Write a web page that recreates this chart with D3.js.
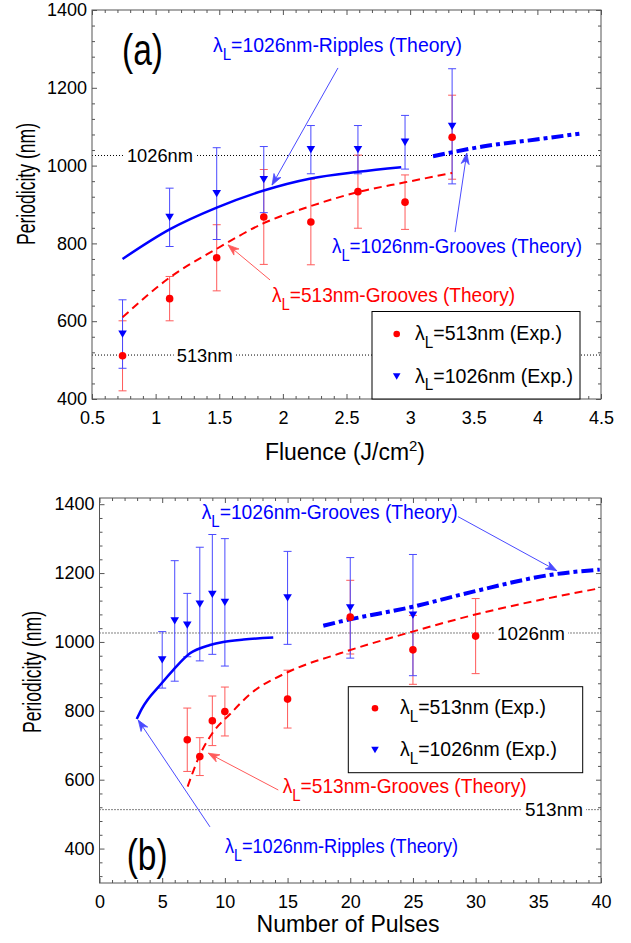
<!DOCTYPE html>
<html><head><meta charset="utf-8">
<script src="https://cdn.jsdelivr.net/npm/d3@7"></script>
<style>
body{margin:0;background:#fff;}
text{font-family:"Liberation Sans",Arial,sans-serif;}
</style></head><body>
<svg id="c" width="631" height="943"></svg>
<script>
// ---------- Panel (a): periodicity vs fluence ----------
const fluence = [0.74,1.11,1.48,1.85,2.22,2.59,2.96,3.33];
const fl513 = [511,658,763,868,855,933,906,1073];
const fl513Err = [90,57,85,122,110,94,70,108];
const fl1026 = [567,867,928,964,1041,1041,1060,1101];
const fl1026Err = [88,75,118,85,62,62,69,148];
const ripA_x = [0.74,1.11,1.48,1.85,2.22,2.59,2.93];
const ripA_y = [760,836,892,936,967,984,996];
const grv513A_x = [0.74,1.11,1.48,1.85,2.22,2.59,2.96,3.33];
const grv513A_y = [610,712,786,852,896,932,957,981];
const grv1026A_x = [3.18,3.57,3.99,4.33];
const grv1026A_y = [1024,1049,1067,1082];
const fluenceTicks = [0.5,1,1.5,2,2.5,3,3.5,4,4.5];

// ---------- Panel (b): periodicity vs number of pulses ----------
const pulses1026 = [5,6,7,8,9,10,15,20,25];
const pu1026 = [948,1061,1049,1110,1138,1115,1128,1099,1078];
const pu1026Err = [82,175,92,165,174,185,135,146,176];
const pulses513 = [7,8,9,10,15,20,25,30];
const pu513 = [716,667,771,798,834,1072,977,1017];
const pu513Err = [92,55,72,71,84,107,100,109];
const ripB_x = [2.97,3.36,4.96,5.89,7.22,8.81,9.87,11.5,13.86];
const ripB_y = [776,805,880,919,967,991,1000,1007,1013];
const grv513B_x = [7.03,8.01,9.0,10.4,12.0,15.0,19.2,24.97,29.8,39.9];
const grv513B_y = [580,672,735,790,848,912,967,1030,1078,1156];
const grv1026B_x = [17.85,19.18,24.97,29.8,36.2,39.9];
const grv1026B_y = [1047,1059,1102,1146,1196,1210];
const pulseTicks = [0,5,10,15,20,25,30,35,40];

const periodTicks = [400,600,800,1000,1200,1400];
const refLines = [1026,513];

const RED = "#ff0000", BLUE = "#0000ff", RED_L = "#ff5a5a", BLUE_L = "#4a4aff";
const svg = d3.select("#c");

function lamText(g, x, y, rest, color, size, width, anchor){
  const t = g.append("text").attr("x",x).attr("y",y).attr("fill",color)
    .attr("font-size",size).attr("text-anchor",anchor||"start");
  if(width) t.attr("textLength",width).attr("lengthAdjust","spacingAndGlyphs");
  t.append("tspan").text("λ");
  t.append("tspan").attr("dy",size*0.38).attr("font-size",size*0.78).text("L");
  t.append("tspan").attr("dy",-size*0.38).text(rest);
  return t;
}
function plainText(g,x,y,s,size,width,anchor,color){
  const t=g.append("text").attr("x",x).attr("y",y).attr("font-size",size)
    .attr("text-anchor",anchor||"start").attr("fill",color||"#000").text(s);
  if(width) t.attr("textLength",width).attr("lengthAdjust","spacingAndGlyphs");
  return t;
}
function arrow(g,x1,y1,x2,y2,color){
  g.append("line").attr("x1",x1).attr("y1",y1).attr("x2",x2).attr("y2",y2)
    .attr("stroke",color).attr("stroke-width",1);
  const a=Math.atan2(y2-y1,x2-x1), L=11, W=4;
  const bx=x2-L*Math.cos(a), by=y2-L*Math.sin(a);
  const nx=-Math.sin(a), ny=Math.cos(a);
  const mx=x2-L*0.7*Math.cos(a), my=y2-L*0.7*Math.sin(a);
  g.append("path").attr("d",`M${x2},${y2}L${bx+nx*W},${by+ny*W}L${mx},${my}L${bx-nx*W},${by-ny*W}Z`)
    .attr("fill",color).attr("stroke",color).attr("stroke-width",0.8);
}
function triPath(cx,cy,s){ // downward triangle
  return `M${cx-s},${cy-s*0.85}L${cx+s},${cy-s*0.85}L${cx},${cy+s*0.85}Z`;
}

function panel(o){
  const g = svg.append("g");
  const x=o.x, y=o.y;
  const [x0,x1]=x.range(), [y0,y1]=y.range(); // y0 bottom, y1 top
  refLines.forEach(v=>{
    g.append("line").attr("x1",x0).attr("x2",x1).attr("y1",y(v)).attr("y2",y(v))
      .attr("stroke","#000").attr("stroke-width",1).attr("stroke-dasharray","1,2");
  });
  o.refLabels.forEach(r=>{
    g.append("rect").attr("x",x(r.x)-r.w/2-3).attr("y",y(r.v)-9).attr("width",r.w+6).attr("height",18).attr("fill","#fff");
    plainText(g,x(r.x),y(r.v),r.s,19,r.w,"middle").attr("dy","0.36em");
  });
  const fmt=d3.format("~g"), yfmt=d3.format("d");
  const bottom=d3.axisBottom(x).tickValues(o.xTicks).tickFormat(fmt).tickSizeInner(-5).tickSizeOuter(0).tickPadding(12);
  const left=d3.axisLeft(y).tickValues(periodTicks).tickFormat(yfmt).tickSizeInner(-5).tickSizeOuter(0).tickPadding(5);
  g.append("g").attr("transform",`translate(0,${y0})`).call(bottom);
  g.append("g").attr("transform",`translate(${x0},0)`).call(left);
  g.append("g").attr("transform",`translate(0,${y1})`).call(d3.axisTop(x).tickValues(o.xTicks).tickFormat("").tickSizeInner(-5).tickSizeOuter(0));
  g.append("g").attr("transform",`translate(${x1},0)`).call(d3.axisRight(y).tickValues(periodTicks).tickFormat("").tickSizeInner(-5).tickSizeOuter(0));
  const xm=d3.range(o.xDom[0],o.xDom[1]+1e-9,o.xMinor).filter(v=>!o.xTicks.some(t=>Math.abs(t-v)<1e-6));
  const ym=d3.range(320,1420,40).filter(v=>v>=y.domain()[0]&&v<=y.domain()[1]&&!periodTicks.includes(v));
  g.append("g").attr("transform",`translate(0,${y0})`).call(d3.axisBottom(x).tickValues(xm).tickFormat("").tickSizeInner(-3).tickSizeOuter(0));
  g.append("g").attr("transform",`translate(0,${y1})`).call(d3.axisTop(x).tickValues(xm).tickFormat("").tickSizeInner(-3).tickSizeOuter(0));
  g.append("g").attr("transform",`translate(${x0},0)`).call(d3.axisLeft(y).tickValues(ym).tickFormat("").tickSizeInner(-3).tickSizeOuter(0));
  g.append("g").attr("transform",`translate(${x1},0)`).call(d3.axisRight(y).tickValues(ym).tickFormat("").tickSizeInner(-3).tickSizeOuter(0));
  g.selectAll(".domain").remove();
  g.selectAll(".tick line").attr("stroke","#555");
  g.selectAll(".tick text").attr("font-size",18).attr("font-family",'"Liberation Sans",Arial,sans-serif').attr("fill","#000");
  g.append("rect").attr("x",x0).attr("y",y1).attr("width",x1-x0).attr("height",y0-y1)
    .attr("fill","none").attr("stroke","#555").attr("stroke-width",1);

  function errs(xs,vs,es,color){
    xs.forEach((xv,i)=>{
      const px=x(xv), ya=y(vs[i]-es[i]), yb=y(vs[i]+es[i]);
      g.append("line").attr("x1",px).attr("x2",px).attr("y1",ya).attr("y2",yb).attr("stroke",color).attr("stroke-width",1);
      [ya,yb].forEach(yy=>g.append("line").attr("x1",px-4).attr("x2",px+4).attr("y1",yy).attr("y2",yy).attr("stroke",color).attr("stroke-width",1));
    });
  }
  errs(o.rX,o.rV,o.rE,RED_L);
  errs(o.bX,o.bV,o.bE,BLUE_L);
  const line=d3.line().x(d=>x(d[0])).y(d=>y(d[1])).curve(d3.curveMonotoneX);
  g.append("path").attr("d",line(d3.zip(o.rip[0],o.rip[1]))).attr("fill","none").attr("stroke",BLUE).attr("stroke-width",2.5);
  g.append("path").attr("d",line(d3.zip(o.g513[0],o.g513[1]))).attr("fill","none").attr("stroke",RED).attr("stroke-width",2).attr("stroke-dasharray","8,5");
  g.append("path").attr("d",line(d3.zip(o.g1026[0],o.g1026[1]))).attr("fill","none").attr("stroke",BLUE).attr("stroke-width",4).attr("stroke-dasharray","12,4,4,4");
  o.rX.forEach((xv,i)=>g.append("circle").attr("cx",x(xv)).attr("cy",y(o.rV[i])).attr("r",3.8).attr("fill",RED));
  o.bX.forEach((xv,i)=>g.append("path").attr("d",triPath(x(xv),y(o.bV[i]),4.3)).attr("fill",BLUE));

  plainText(g,x(o.tag.x),y(o.tag.y),o.tag.s,44,41);
  o.notes.forEach(n=>{
    lamText(g,x(n.x),y(n.y),n.s,n.c,21,n.w);
    arrow(g,x(n.a[0]),y(n.a[1]),x(n.a[2]),y(n.a[3]),n.c===RED?RED_L:BLUE_L);
  });
  const L=o.leg;
  const lg=g.append("g").attr("transform",`translate(${L.x},${L.y})`);
  lg.append("rect").attr("width",L.w).attr("height",L.h).attr("fill","#fff").attr("stroke","#000").attr("stroke-width",1);
  lg.append("circle").attr("cx",L.mx).attr("cy",L.r1).attr("r",3.3).attr("fill",RED);
  lamText(lg,L.tx,L.r1+6,"=513nm (Exp.)","#000",20,L.w1);
  lg.append("path").attr("d",triPath(L.mx,L.r2,3.8)).attr("fill",BLUE);
  lamText(lg,L.tx,L.r2+6,"=1026nm (Exp.)","#000",20,L.w2);
  return g;
}

const xA=d3.scaleLinear([0.5,4.5],[92,601]);
const yA=d3.scaleLinear([400,1400],[399,10]);
panel({x:xA,y:yA,xTicks:fluenceTicks,xDom:[0.5,4.5],xMinor:0.1,
  rX:fluence,rV:fl513,rE:fl513Err,bX:fluence,bV:fl1026,bE:fl1026Err,
  rip:[ripA_x,ripA_y],g513:[grv513A_x,grv513A_y],g1026:[grv1026A_x,grv1026A_y],
  refLabels:[{v:1026,x:1.034,s:"1026nm",w:66},{v:513,x:1.386,s:"513nm",w:56}],
  tag:{x:0.736,y:1259,s:"(a)"},
  notes:[
    {x:1.451,y:1292,s:"=1026nm-Ripples (Theory)",c:BLUE,w:249,a:[2.433,1251,1.915,950]},
    {x:2.386,y:775,s:"=1026nm-Grooves (Theory)",c:BLUE,w:250,a:[3.353,829,3.445,1032]},
    {x:1.915,y:649,s:"=513nm-Grooves (Theory)",c:RED,w:243,a:[1.899,706,1.569,796]}
  ],
  leg:{x:372,y:311.5,w:208,h:87.5,mx:24.7,tx:43,r1:22.5,r2:65,w1:147,w2:158}
});

const xB=d3.scaleLinear([0,40],[99.5,601]);
const yB=d3.scaleLinear([300,1418],[883,498]);
panel({x:xB,y:yB,xTicks:pulseTicks,xDom:[0,40],xMinor:1,
  rX:pulses513,rV:pu513,rE:pu513Err,bX:pulses1026,bV:pu1026,bE:pu1026Err,
  rip:[ripB_x,ripB_y],g513:[grv513B_x,grv513B_y],g1026:[grv1026B_x,grv1026B_y],
  refLabels:[{v:1026,x:34.42,s:"1026nm",w:68},{v:513,x:36.25,s:"513nm",w:58}],
  tag:{x:2.17,y:338,s:"(b)"},
  notes:[
    {x:8.15,y:1357,s:"=1026nm-Grooves (Theory)",c:BLUE,w:256,a:[28.59,1364,36.47,1207]},
    {x:14.61,y:561,s:"=513nm-Grooves (Theory)",c:RED,w:244,a:[14.26,570,8.68,677]},
    {x:10.01,y:387,s:"=1026nm-Ripples (Theory)",c:BLUE,w:233,a:[8.81,463,3.09,773]}
  ],
  leg:{x:348.3,y:686.7,w:234.4,h:86,mx:26.7,tx:51.7,r1:21.6,r2:63.3,w1:146,w2:157}
});

// axis titles
svg.append("text").attr("transform","translate(35,184) rotate(-90)").attr("text-anchor","middle")
  .attr("font-size",25).attr("textLength",122).attr("lengthAdjust","spacingAndGlyphs").text("Periodicity (nm)");
svg.append("text").attr("transform","translate(41,672) rotate(-90)").attr("text-anchor","middle")
  .attr("font-size",25).attr("textLength",122).attr("lengthAdjust","spacingAndGlyphs").text("Periodicity (nm)");
const fl=svg.append("text").attr("x",265).attr("y",460).attr("font-size",23)
  .attr("textLength",160).attr("lengthAdjust","spacingAndGlyphs");
fl.append("tspan").text("Fluence (J/cm");
fl.append("tspan").attr("dy",-9).attr("font-size",15).text("2");
fl.append("tspan").attr("dy",9).text(")");
svg.append("text").attr("x",348).attr("y",932).attr("text-anchor","middle").attr("font-size",24)
  .attr("textLength",183).attr("lengthAdjust","spacingAndGlyphs").text("Number of Pulses");
</script>
</body></html>
